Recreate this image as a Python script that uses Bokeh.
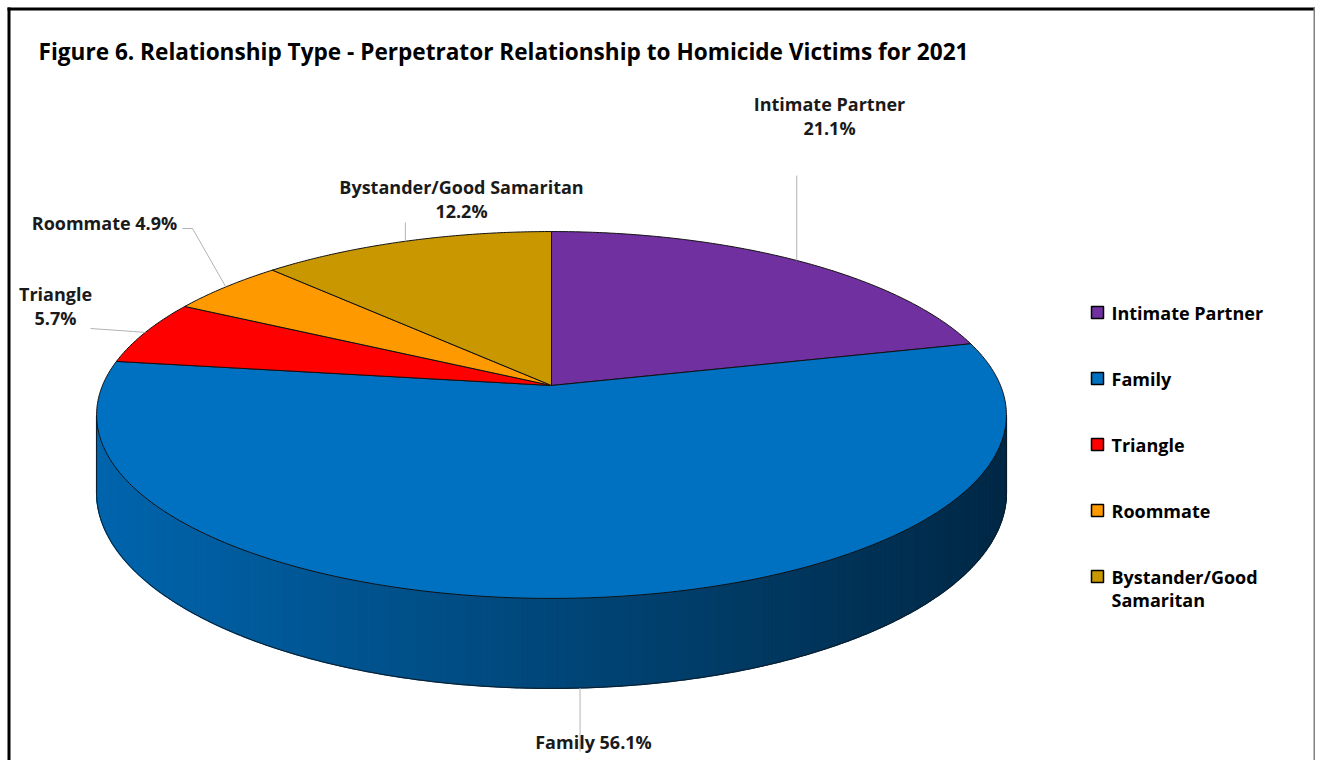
import numpy as np
from bokeh.plotting import figure
from bokeh.models import Range1d, ColumnDataSource
from bokeh.embed import file_html
from bokeh.resources import INLINE
from bokeh.core.properties import value

# ---------------- data ----------------
title_text = "Figure 6. Relationship Type - Perpetrator Relationship to Homicide Victims for 2021"
categories = ["Intimate Partner", "Family", "Triangle", "Roommate", "Bystander/Good Samaritan"]
percentages = [21.1, 56.1, 5.7, 4.9, 12.2]
colors = ["#7030A0", "#0070C0", "#FF0000", "#FF9900", "#C99700"]

# ---------------- layout / style ----------------
W, H = 1315, 760
FONT = value("Open Sans")
LABEL_SIZE = "18px"
TITLE_SIZE = "22.6px"
TEXT_COLOR = "#1a1a1a"

# 3D pie projection parameters (screen pixels)
CX, CY = 551.0, 385.0     # pie centre on screen
A, B = 449.0, 178.7       # horizontal / vertical scale
C = 0.1607                # perspective strength
DEPTH = 75.5              # thickness of the pie

# label placement (block centre) and how the text is split
label_layout = {
    "Intimate Partner": dict(x=829, y=115, sep="\n"),
    "Family": dict(x=593, y=741, sep=" "),
    "Triangle": dict(x=55, y=305, sep="\n"),
    "Roommate": dict(x=104, y=222, sep=" "),
    "Bystander/Good Samaritan": dict(x=461, y=198, sep="\n"),
}
leader_waypoints = {
    "Intimate Partner": [(None, 175)],
    "Family": [(None, 751)],
    "Triangle": [(90, 328), (133, 331)],
    "Roommate": [(182, 228), (192, 228)],
    "Bystander/Good Samaritan": [(None, 222)],
}
LINE_STEP = 24

p = figure(width=W, height=H, x_range=Range1d(0, W), y_range=Range1d(H, 0),
           output_backend="svg", toolbar_location=None, min_border=0,
           x_axis_location=None, y_axis_location=None)
p.grid.visible = False
p.outline_line_color = None
p.background_fill_color = "white"
p.border_fill_color = "white"


def proj(theta_deg):
    t = np.radians(theta_deg)
    u, v = np.sin(t), -np.cos(t)
    w = 1 - C * v
    return CX + A * u / w, CY + B * v / w, DEPTH / w


def hex_to_rgb(h):
    h = h.lstrip("#")
    return np.array([int(h[i:i + 2], 16) for i in (0, 2, 4)], dtype=float)


def rgb_to_hex(c):
    c = np.clip(np.round(c), 0, 255).astype(int)
    return "#%02x%02x%02x" % tuple(c)


vals = np.array(percentages, dtype=float)
ends = np.cumsum(vals) / vals.sum() * 360.0
starts = np.concatenate([[0.0], ends[:-1]])


def slice_of(theta):
    for i, (s, e) in enumerate(zip(starts, ends)):
        if s <= theta < e:
            return i
    return len(vals) - 1


# ---------------- side wall ----------------
theta_L = np.degrees(np.arccos(-C))          # right silhouette (screen right)
theta_R = 360.0 - theta_L                    # left silhouette
xspan = A / np.sqrt(1 - C * C)
xmin, xmax = CX - xspan, CX + xspan
N = 300
th = np.linspace(theta_L, theta_R, N + 1)
sx, sy, sfc = [], [], []
for a0, a1 in zip(th[:-1], th[1:]):
    xa, ya, da = proj(a0)
    xb, yb, db = proj(a1)
    k = slice_of(0.5 * (a0 + a1))
    xm = 0.5 * (xa + xb)
    t = (xm - xmin) / (xmax - xmin)
    factor = 0.90 - 0.54 * t
    col = rgb_to_hex(hex_to_rgb(colors[k]) * factor)
    sx.append([xa, xb, xb, xa])
    sy.append([ya, yb, yb + db, ya + da])
    sfc.append(col)
p.patches(xs="xs", ys="ys", fill_color="fc", line_color="fc", line_width=1.3,
          source=ColumnDataSource(dict(xs=sx, ys=sy, fc=sfc)))

# side outline
bx, by = [], []
for a in th:
    x, y, d = proj(a)
    bx.append(x); by.append(y + d)
xl, yl, dl = proj(theta_L)
xr, yr, dr = proj(theta_R)
p.multi_line(xs=[bx, [xl, xl], [xr, xr]], ys=[by, [yl, yl + dl], [yr, yr + dr]],
             line_color="#0d1a26", line_width=1)

# ---------------- top face ----------------
txs, tys = [], []
for s, e in zip(starts, ends):
    a = np.linspace(s, e, max(8, int((e - s) * 2)))
    x, y, _ = proj(a)
    txs.append([CX] + list(x))
    tys.append([CY] + list(y))
p.patches(xs="xs", ys="ys", fill_color="fc", line_color="#111111", line_width=1,
          source=ColumnDataSource(dict(xs=txs, ys=tys, fc=colors)))

# ---------------- leader lines & labels ----------------
lxs, lys = [], []
tx, ty, tt = [], [], []
for cat, pct, s, e in zip(categories, percentages, starts, ends):
    mid = 0.5 * (s + e)
    ex, ey, ed = proj(mid)
    if theta_L < mid < theta_R:
        ey = ey + ed
    pts = []
    for wx, wy in leader_waypoints[cat]:
        pts.append((ex if wx is None else wx, wy))
    pts.append((ex, ey))
    lxs.append([q[0] for q in pts])
    lys.append([q[1] for q in pts])
    lay = label_layout[cat]
    text = f"{cat}{lay['sep']}{pct:.1f}%"
    lines = text.split("\n")
    n = len(lines)
    for i, ln in enumerate(lines):
        tx.append(lay["x"])
        ty.append(lay["y"] + (i - (n - 1) / 2) * LINE_STEP)
        tt.append(ln)
p.multi_line(xs=lxs, ys=lys, line_color="#b3b3b3", line_width=1)
p.text(x=tx, y=ty, text=tt, text_font=FONT, text_font_style="bold",
       text_font_size=LABEL_SIZE, text_color=TEXT_COLOR,
       text_align="center", text_baseline="middle")

# ---------------- legend ----------------
LEG_X, LEG_Y0, LEG_STEP = 1097, 312, 66
mx, my = [], []
gx, gy, gt = [], [], []
for i, cat in enumerate(categories):
    yy = LEG_Y0 + i * LEG_STEP
    mx.append(LEG_X); my.append(yy)
    words = cat.split(" ")
    lines = [cat] if len(cat) <= 16 else [" ".join(words[:-1]), words[-1]]
    for j, ln in enumerate(lines):
        gx.append(LEG_X + 14); gy.append(yy + j * 23); gt.append(ln)
p.scatter(x=mx, y=my, marker="square", size=12, fill_color=colors,
          line_color="#000000", line_width=1.5)
p.text(x=gx, y=gy, text=gt, text_font=FONT, text_font_style="bold",
       text_font_size=LABEL_SIZE, text_color="#000000",
       text_align="left", text_baseline="middle")

# ---------------- title ----------------
p.text(x=[38], y=[51], text=[title_text], text_font=FONT, text_font_style="bold",
       text_font_size=TITLE_SIZE, text_color="#000000",
       text_align="left", text_baseline="middle")

# ---------------- chart border ----------------
p.segment(x0=[8.5, 7], y0=[7, 8.5], x1=[8.5, W], y1=[H, 8.5], line_color="#000000", line_width=3)
p.segment(x0=[W - 1], y0=[7], x1=[W - 1], y1=[H], line_color="#808080", line_width=2)

open("out.html", "w").write(file_html(p, INLINE))
